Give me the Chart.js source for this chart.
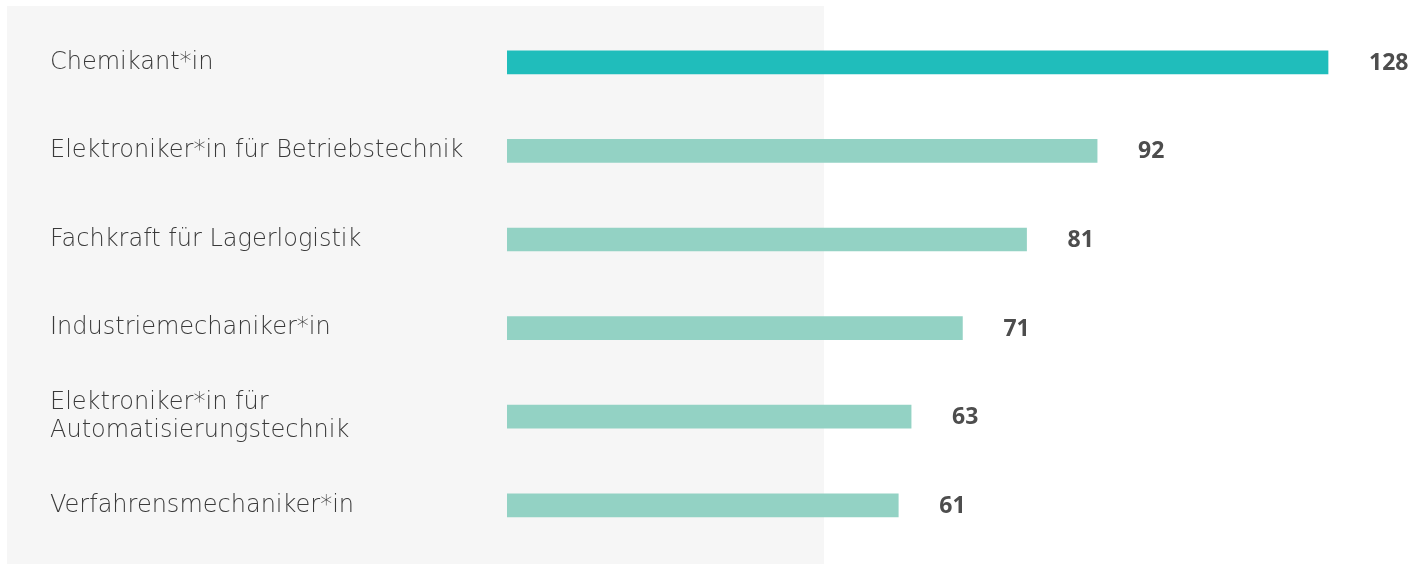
<!DOCTYPE html>
<html>
<head>
<meta charset="utf-8">
<script src="https://cdn.jsdelivr.net/npm/chart.js@4"></script>
<style>
  html, body { margin: 0; padding: 0; background: #ffffff; }
  #wrap { position: relative; width: 1426px; height: 564px; }
  #panel { position: absolute; left: 7px; top: 6px; width: 817px; height: 558px; background: #f6f6f6; }
  #myChart { position: absolute; left: 0; top: 0; }
</style>
</head>
<body>
<div id="wrap">
  <div id="panel"></div>
  <canvas id="myChart" width="1426" height="564"></canvas>
</div>
<script>
// Berufe und Anzahl
const berufe = [
  "Chemikant*in",
  "Elektroniker*in für Betriebstechnik",
  "Fachkraft für Lagerlogistik",
  "Industriemechaniker*in",
  ["Elektroniker*in für", "Automatisierungstechnik"],
  "Verfahrensmechaniker*in",
];
const anzahl = [128, 92, 81, 71, 63, 61];
const farben = ["#20bdbb", "#93d2c4", "#93d2c4", "#93d2c4", "#93d2c4", "#93d2c4"];

const schrift = "'DejaVu Sans', sans-serif";

// Werte rechts neben den Balken
const wertLabels = {
  id: "wertLabels",
  afterDatasetsDraw(chart) {
    const ctx = chart.ctx;
    const meta = chart.getDatasetMeta(0);
    ctx.save();
    ctx.font = "bold 23px 'Open Sans', sans-serif";
    ctx.fillStyle = "#4d4d4d";
    ctx.textAlign = "left";
    ctx.textBaseline = "middle";
    meta.data.forEach(function (bar, i) {
      ctx.fillText(anzahl[i], bar.x + 41, bar.y + 1);
    });
    ctx.restore();
  },
};

const ctx1 = document.getElementById("myChart");

new Chart(ctx1, {
  type: "bar",
  data: {
    labels: berufe,
    datasets: [
      {
        data: anzahl,
        backgroundColor: farben,
        borderWidth: 0,
        barThickness: 23,
      },
    ],
  },
  options: {
    indexAxis: "y",
    responsive: false,
    animation: false,
    layout: {
      padding: { top: 18, bottom: 4, left: 50, right: 21 },
    },
    scales: {
      x: {
        display: false,
        min: 0,
        max: 140,
      },
      y: {
        grid: { display: false, drawTicks: false },
        border: { display: false },
        afterFit: function (scale) {
          scale.width = 457;
        },
        ticks: {
          crossAlign: "far",
          padding: 0,
          color: "#3a3a3a",
          font: {
            size: 24,
            family: schrift,
            weight: "200",
            lineHeight: 1.2,
          },
        },
      },
    },
    plugins: {
      legend: { display: false },
      tooltip: { enabled: false },
    },
  },
  plugins: [wertLabels],
});
</script>
</body>
</html>
